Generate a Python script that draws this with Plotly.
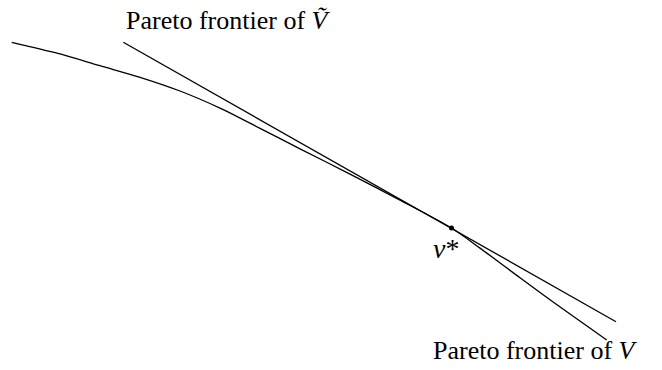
import plotly.graph_objects as go

# Diagram coordinates (y grows downward)
frontier_V_x = [11.7, 20, 60, 100, 140, 180, 220, 260, 300, 350, 400, 451.5, 480, 520, 550, 606.7]
frontier_V_y = [42.3, 44.3, 53.9, 65.7, 77.3, 91.0, 108.1, 128.3, 148.8, 174.1, 200.2, 228.0, 248.1, 277.8, 299.8, 340.0]

frontier_Vt_x = [123.3, 616.0]
frontier_Vt_y = [42.3, 321.7]

v_star_x = [451.5]
v_star_y = [228.0]

label_Vt = "Pareto frontier of <i>Ṽ</i>"
label_V = "Pareto frontier of <i>V</i>"
label_vstar = "<i>v</i>*"

FONT = "Liberation Serif, DejaVu Serif, serif"

fig = go.Figure()
fig.add_trace(go.Scatter(x=frontier_V_x, y=frontier_V_y, mode="lines",
                         line=dict(color="black", width=1.3, shape="spline", smoothing=0.8),
                         hoverinfo="skip"))
fig.add_trace(go.Scatter(x=frontier_Vt_x, y=frontier_Vt_y, mode="lines",
                         line=dict(color="black", width=1.3), hoverinfo="skip"))
fig.add_trace(go.Scatter(x=v_star_x, y=v_star_y, mode="markers",
                         marker=dict(color="black", size=5), hoverinfo="skip"))

fig.add_annotation(x=124, y=20, xref="x", yref="y", text=label_Vt, showarrow=False,
                   xanchor="left", yanchor="middle", font=dict(family=FONT, size=26, color="black"))
fig.add_annotation(x=431, y=350, xref="x", yref="y", text=label_V, showarrow=False,
                   xanchor="left", yanchor="middle", font=dict(family=FONT, size=26, color="black"))
fig.add_annotation(x=446, y=248, xref="x", yref="y", text=label_vstar, showarrow=False,
                   xanchor="center", yanchor="middle", font=dict(family=FONT, size=28, color="black"))

fig.update_layout(
    width=662, height=370,
    margin=dict(l=0, r=0, t=0, b=0),
    paper_bgcolor="white", plot_bgcolor="white",
    showlegend=False,
    hovermode=False,
    xaxis=dict(range=[0, 662], visible=False, fixedrange=True),
    yaxis=dict(range=[370, 0], visible=False, fixedrange=True),
)

fig.write_html("out.html", config={"displayModeBar": False, "staticPlot": True},
               post_script="document.body.style.margin='0';")
